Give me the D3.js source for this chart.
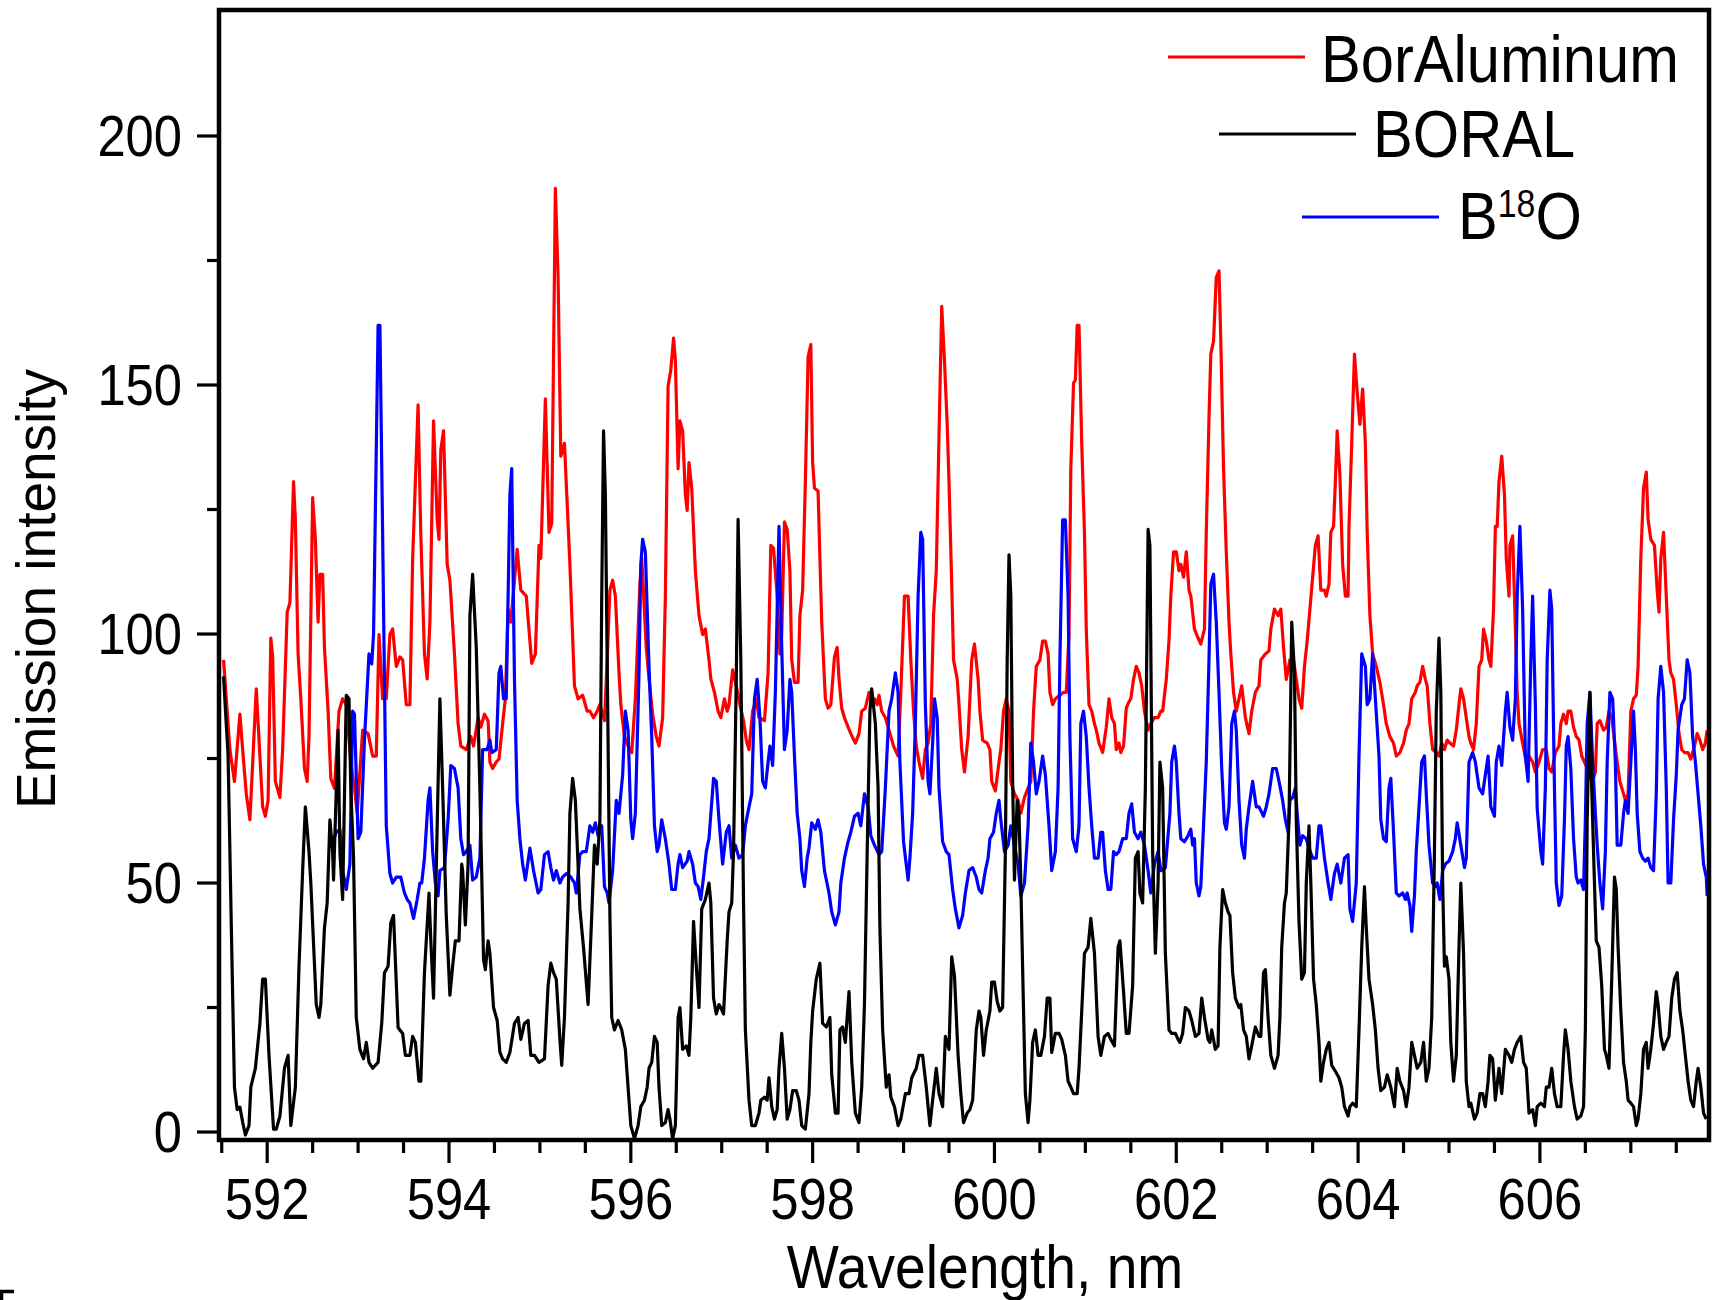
<!DOCTYPE html>
<html>
<head>
<meta charset="utf-8">
<script src="https://cdn.jsdelivr.net/npm/d3@7"></script>
<style>
body{margin:0;background:#fff}
svg{display:block}
text{font-family:"Liberation Sans",Arial,sans-serif;fill:#000}
</style>
</head>
<body>
<div id="chart"></div>
<script>
// spectra: [wavelength nm, intensity]
var borAluminum = [[591.52,94.8],[591.59,76.8],[591.64,70.4],[591.70,83.9],[591.73,76.8],[591.77,67.9],[591.81,62.7],[591.88,89],[591.95,65.3],[591.98,63.4],[592.01,66.6],[592.04,99.2],[592.06,95.4],[592.09,70.4],[592.14,67.2],[592.17,76.8],[592.22,104.4],[592.25,106.3],[592.29,130.6],[592.31,122.9],[592.34,96],[592.37,87],[592.41,73],[592.44,70.4],[592.46,79.4],[592.50,127.4],[592.53,119],[592.56,102.4],[592.58,112],[592.61,112],[592.63,97.3],[592.67,84.5],[592.70,71],[592.74,69],[592.79,84.5],[592.83,87],[592.87,85.8],[592.92,74.3],[592.96,69.1],[592.99,64],[593.05,80.7],[593.11,80],[593.16,75.5],[593.20,75.5],[593.23,99.9],[593.27,87],[593.31,87],[593.35,99.9],[593.38,101],[593.42,93.5],[593.46,95.4],
  [593.49,94.8],[593.53,85.8],[593.57,85.8],[593.60,115],[593.66,146],[593.69,120],[593.73,96],[593.76,91],[593.79,102.4],[593.83,142.8],[593.87,123],[593.89,119],[593.91,137],[593.94,140.8],[593.98,114],[594.01,110.8],[594.06,96],[594.10,82],[594.13,77.5],[594.19,76.8],[594.24,79.4],[594.27,77.5],[594.32,83.2],[594.35,81.3],[594.39,83.9],[594.43,82.6],[594.45,74.3],[594.48,73],[594.52,74.3],[594.55,74.9],[594.59,82],[594.62,87],[594.65,105],[594.68,102.4],[594.75,117],[594.79,108.8],[594.85,107.6],[594.91,94.1],[594.95,96],[594.99,117.8],[595.01,115.2],[595.06,147.2],[595.10,120.4],[595.13,122.3],[595.17,189.5],[595.20,171.6],[595.23,135.7],[595.27,138.3],[595.33,114],[595.38,89.6],[595.42,87],[595.47,87.7],[595.52,84.5],
  [595.55,84.5],[595.59,83.2],[595.63,84.5],[595.66,85.8],[595.71,82.6],[595.74,94.8],[595.77,108.8],[595.80,110.8],[595.83,107.6],[595.87,92.2],[595.89,85.8],[595.93,79.4],[595.97,77.5],[596.01,76.2],[596.05,87],[596.10,110],[596.12,115.2],[596.17,97.3],[596.20,91],[596.24,83.9],[596.28,79.4],[596.31,77.5],[596.35,83.2],[596.38,107.6],[596.41,149.8],[596.44,153],[596.47,159.4],[596.49,155],[596.52,133.2],[596.54,142.8],[596.57,140.8],[596.60,128],[596.62,124.8],[596.64,134.4],[596.67,129.3],[596.71,112.7],[596.75,103.7],[596.79,99.9],[596.82,101],[596.86,94.8],[596.88,91],[596.92,88.3],[596.96,84.5],[596.99,83.2],[597.03,87],[597.06,84.5],[597.08,85.8],[597.12,92.8],[597.16,89.6],[597.20,85.8],[597.24,82.6],[597.27,78.7],[597.30,76.8],[597.34,84.5],[597.38,87],[597.41,83.2],[597.47,82.6],[597.51,92.2],[597.54,117.8],[597.57,117.2],[597.61,107.6],
  [597.64,96],[597.66,100],[597.69,122.5],[597.72,121],[597.75,112.7],[597.77,94.8],[597.80,90.3],[597.84,90.3],[597.86,103.7],[597.89,108.8],[597.92,130.6],[597.95,155.6],[597.98,158.1],[598.00,134.4],[598.02,129.3],[598.06,128.7],[598.08,115.2],[598.10,102.4],[598.14,87],[598.17,85.1],[598.20,85.8],[598.24,95.4],[598.27,97.3],[598.29,91],[598.32,85.1],[598.35,83.2],[598.39,81.3],[598.42,80],[598.47,78.1],[598.51,80],[598.54,84.5],[598.58,85.1],[598.62,88.3],[598.64,87],[598.68,87],[598.71,85.8],[598.73,87.7],[598.76,84.5],[598.80,83.2],[598.84,80.7],[598.89,77.5],[598.94,75.5],[598.97,88.3],[599.01,107.6],[599.05,107.6],[599.08,94.8],[599.11,84.5],[599.14,77.5],[599.17,74.3],[599.21,71],[599.24,76.8],[599.27,78.1],[599.30,82],[599.33,103.7],[599.36,112.7],[599.39,139.6],[599.42,165.8],[599.45,155],[599.48,142.1],[599.50,130.6],[599.53,110],[599.55,94.8],[599.59,91],[599.61,85.8],[599.64,76.8],[599.67,72.3],[599.71,79.4],
  [599.75,94.8],[599.78,98],[599.82,91],[599.84,84.5],[599.87,78.7],[599.92,78.1],[599.95,76.8],[599.97,70.4],[600.01,68.5],[600.05,74.3],[600.07,76.8],[600.10,84.5],[600.13,87],[600.16,84.5],[600.18,70.4],[600.22,67.9],[600.26,66.6],[600.29,64],[600.33,67.2],[600.37,69.1],[600.40,70.4],[600.43,84.5],[600.46,93.5],[600.50,94.8],[600.53,98.6],[600.56,98.6],[600.59,96],[600.61,88.3],[600.64,85.8],[600.67,87],[600.72,87.7],[600.76,88.3],[600.79,88.3],[600.82,99.9],[600.84,133.2],[600.87,150.4],[600.89,151],[600.91,162],[600.93,162],[600.96,138.3],[600.99,120.4],[601.01,101],[601.04,85.8],[601.07,84.5],[601.10,82],[601.12,80.7],[601.15,78.1],[601.19,76.2],[601.23,81.3],[601.26,87],[601.29,83.2],[601.32,82],[601.34,76.8],[601.37,78.1],[601.39,76.2],[601.42,77.5],[601.45,85.1],[601.48,86.4],[601.50,87],[601.53,90.9],[601.56,93.5],[601.59,92.2],[601.62,89.6],[601.65,84.5],[601.69,80.7],[601.72,82],[601.76,83.2],[601.80,83.2],[601.83,84.5],
  [601.85,84.5],[601.89,90.9],[601.92,98.6],[601.94,107.6],[601.97,116.5],[602.00,116.5],[602.03,112.7],[602.05,114],[602.08,111.4],[602.11,116.5],[602.14,108.8],[602.16,107.6],[602.20,101],[602.24,99.2],[602.27,98],[602.31,101],[602.33,120.4],[602.36,143.4],[602.38,156.2],[602.41,158.8],[602.44,171.6],[602.47,172.9],[602.49,158.8],[602.52,133.2],[602.55,116.5],[602.58,102.4],[602.60,96],[602.63,88.3],[602.66,84.5],[602.69,87],[602.72,89.6],[602.76,83.2],[602.80,80],[602.83,84.5],[602.87,88.3],[602.91,89.6],[602.93,94.8],[602.98,96],[603.02,96.6],[603.04,101],[603.08,105],[603.12,103.7],[603.15,105],[603.18,97.3],[603.21,90.9],[603.25,94.8],[603.29,94.8],[603.32,90.9],[603.35,87],[603.38,85.1],[603.41,93.5],[603.44,98.6],[603.47,105],[603.50,111.4],[603.53,117.8],[603.56,119.7],[603.59,108.8],[603.63,108.8],[603.65,107.6],[603.68,110],[603.70,120.4],[603.73,121.6],[603.75,130.6],[603.77,140.8],[603.80,131.9],[603.83,114],[603.86,107.6],[603.89,107.6],[603.90,121.6],[603.93,138.3],[603.96,156.2],
  [603.99,148.5],[604.02,142.1],[604.05,149.2],[604.08,138.3],[604.10,120.4],[604.13,103.7],[604.16,96],[604.20,93.5],[604.24,90.3],[604.28,85.8],[604.31,82],[604.35,79.4],[604.39,78.1],[604.42,75.5],[604.46,76.2],[604.50,78.1],[604.53,80.7],[604.56,82],[604.59,87],[604.63,88.3],[604.65,89.6],[604.68,90.3],[604.71,93.5],[604.74,90.9],[604.76,89.6],[604.79,82],[604.82,76.8],[604.86,76.2],[604.89,75.5],[604.92,78.1],[604.95,76.8],[604.98,78.7],[605.01,78.1],[605.05,77.5],[605.08,80.7],[605.11,85.8],[605.13,89],[605.16,87],[605.19,83.2],[605.22,79.4],[605.24,78.1],[605.27,76.8],[605.30,82],[605.33,93.5],[605.36,94.8],[605.38,101],[605.41,98.6],[605.44,94.8],[605.46,93.5],[605.49,105],[605.51,121.6],[605.53,121.6],[605.55,130.6],[605.58,135.7],[605.61,128],[605.63,115.2],[605.66,107.6],[605.67,117.8],[605.70,119.7],[605.72,107.6],[605.75,88.3],[605.77,82],[605.81,78.1],[605.85,74.3],
  [605.88,75.5],[605.92,74.3],[605.95,72.3],[605.99,74.3],[606.03,76.8],[606.07,76.8],[606.10,73],[606.13,72.3],[606.17,76.2],[606.21,77.5],[606.23,82],[606.26,83.9],[606.29,82],[606.31,84.5],[606.34,84.5],[606.37,81.3],[606.40,79.4],[606.43,78.7],[606.46,75.5],[606.49,74.3],[606.52,73],[606.55,71],[606.58,70.4],[606.61,72.3],[606.63,82],[606.66,82.6],[606.70,80.7],[606.73,81.3],[606.76,84.5],[606.79,83.2],[606.82,78.7],[606.85,74.3],[606.88,70.4],[606.92,67.9],[606.94,66.6],[606.97,67.9],[607.00,84.5],[607.03,87],[607.06,87.7],[607.08,93.5],[607.11,115.2],[607.14,129.3],[607.17,132.5],[607.19,123],[607.22,119],[607.26,117.8],[607.29,108.8],[607.31,104.4],[607.33,115.2],[607.36,120.4],[607.39,107.6],[607.42,94.8],[607.44,92.2],[607.47,90.9],[607.50,85.8],[607.53,80],[607.56,76.8],[607.59,76.2],[607.63,76.2],[607.66,74.9],[607.70,77.5],[607.73,80],[607.76,78.7],[607.79,76.8],[607.82,78.1],[607.84,80.7]];

var boral = [[591.52,91.5],[591.57,75.5],[591.61,37],[591.64,9],[591.67,4.5],[591.70,5],[591.73,2],[591.76,-0.6],[591.80,1.3],[591.82,9],[591.87,12.8],[591.92,21.8],[591.95,30.7],[591.98,30.7],[592.02,15.4],[592.07,0.6],[592.10,0.6],[592.14,3.2],[592.19,12.8],[592.23,15.4],[592.26,1.3],[592.31,9],[592.35,33.3],[592.39,52.5],[592.42,65.3],[592.46,56.3],[592.48,50],[592.54,25.6],[592.57,23],[592.59,25.6],[592.63,41],[592.66,46],[592.69,62.7],[592.72,56.3],[592.73,50.6],[592.78,80.7],[592.80,56.3],[592.83,46.7],[592.87,87.7],[592.90,87],[592.92,69],[592.95,55],[592.98,23],[593.02,16.6],[593.06,14.7],[593.09,18],[593.12,14],[593.16,12.8],[593.22,14],[593.26,21.8],[593.29,32],[593.33,33.3],[593.36,42],[593.39,43.5],[593.44,21],
  [593.46,20.5],[593.49,19.8],[593.52,15.4],[593.57,15.4],[593.60,19.2],[593.63,18],[593.67,10.2],[593.69,10.2],[593.73,32],[593.78,48],[593.80,38.4],[593.83,26.9],[593.87,61.5],[593.90,87],[593.93,69],[593.97,43.5],[594.01,27.5],[594.04,33.3],[594.07,38.4],[594.11,38.4],[594.14,53.8],[594.15,52.5],[594.18,41.6],[594.21,53.8],[594.23,103.7],[594.26,112],[594.30,97.3],[594.34,69],[594.38,34.6],[594.40,32.6],[594.43,38.4],[594.45,35.9],[594.49,25],[594.53,22.4],[594.56,16],[594.59,14.7],[594.63,14],[594.67,16],[594.72,21.8],[594.76,23],[594.79,18.6],[594.83,21.8],[594.87,22.4],[594.90,15.4],[594.94,15.4],[594.99,14],[595.05,14.7],[595.09,29.4],[595.12,33.9],[595.15,32],[595.18,30.7],[595.22,18.6],[595.24,13.4],[595.27,23],[595.31,46],[595.33,64],[595.36,71],[595.39,66.6],[595.44,44.8],[595.48,37],[595.53,25.6],
  [595.57,43.5],[595.60,57.6],[595.63,53.8],[595.66,62.7],[595.68,107.6],[595.70,140.8],[595.72,128],[595.75,78.1],[595.77,43.5],[595.79,23],[595.82,20.5],[595.86,22.4],[595.90,20.5],[595.94,16.6],[595.98,6.4],[596.00,1.3],[596.04,-1.3],[596.08,1.3],[596.11,5.1],[596.15,6.4],[596.18,9],[596.20,12.8],[596.23,14],[596.26,19.2],[596.29,18],[596.31,9],[596.34,1.3],[596.38,1.9],[596.41,4.5],[596.43,2.6],[596.46,-1.3],[596.49,1.3],[596.52,23],[596.54,25],[596.57,16.6],[596.61,17.3],[596.64,15.4],[596.66,23],[596.69,42.3],[596.72,33.3],[596.75,25],[596.78,44.8],[596.82,46.7],[596.86,50],[596.88,46],[596.91,26.9],[596.94,23.7],[596.97,25.6],[596.99,25],[597.02,23.7],[597.06,38.4],[597.08,44.2],[597.11,46],[597.13,56.3],[597.16,90.9],[597.18,123],[597.21,94.8],[597.24,46],[597.26,20.5],[597.30,6.4],[597.33,1.3],[597.37,1.3],[597.41,3.8],[597.43,6.4],[597.47,7],[597.50,6.4],[597.52,10.9],[597.55,5.1],[597.58,2.6],[597.61,4.5],
  [597.63,12.8],[597.66,19.8],[597.69,12.8],[597.72,2.6],[597.75,4.5],[597.78,8.3],[597.82,8.3],[597.85,6.4],[597.88,1.3],[597.92,0.6],[597.96,7.7],[597.98,18],[598.00,24.3],[598.04,30.7],[598.08,33.9],[598.11,21.8],[598.15,21.1],[598.19,23],[598.21,11.5],[598.25,3.8],[598.28,3.8],[598.30,20.5],[598.33,21.1],[598.36,18],[598.40,28.2],[598.43,14],[598.47,3.8],[598.51,1.9],[598.54,9],[598.57,25.6],[598.60,56.3],[598.63,84.5],[598.65,89],[598.69,82],[598.72,69.1],[598.74,41],[598.77,20.5],[598.81,9],[598.84,11.5],[598.86,7],[598.90,5.1],[598.94,1.3],[598.97,2.6],[599.02,7.7],[599.06,7.7],[599.09,10.9],[599.14,12.8],[599.17,15.4],[599.21,15.4],[599.25,9],[599.29,1.3],[599.32,6.4],[599.36,12.8],[599.39,7.7],[599.43,5.1],[599.46,19.2],[599.50,16.6],[599.53,35.2],[599.56,31.4],[599.60,15.4],[599.63,7.7],[599.66,1.9],[599.70,3.8],[599.73,4.5],[599.76,6.4],[599.80,20.5],
  [599.83,24.3],[599.85,23],[599.88,15.4],[599.91,20.5],[599.95,24.3],[599.97,30.1],[600.00,30.1],[600.03,26.2],[600.06,24.3],[600.09,25],[600.12,56.3],[600.14,94.8],[600.16,115.9],[600.18,107.6],[600.20,70.4],[600.22,50.6],[600.25,66.6],[600.27,64],[600.29,50],[600.32,24.3],[600.34,7.7],[600.37,1.9],[600.39,6.4],[600.42,18],[600.45,20.5],[600.48,15.4],[600.51,15.4],[600.55,19.2],[600.58,26.9],[600.61,26.9],[600.63,16],[600.67,19.8],[600.71,19.8],[600.74,18.6],[600.78,15.4],[600.81,10.2],[600.84,9],[600.87,7.7],[600.91,7.7],[600.93,12.8],[600.96,24.3],[600.99,35.9],[601.03,37.1],[601.06,42.9],[601.10,35.9],[601.14,19.2],[601.17,15.4],[601.21,19.2],[601.25,19.8],[601.28,18.6],[601.32,17.3],[601.36,37.1],[601.38,38.4],[601.42,28.2],[601.45,19.8],[601.48,19.8],[601.52,29.4],[601.55,55],[601.58,56.3],[601.60,48],[601.63,46],[601.66,69.1],[601.69,121],[601.71,117.8],[601.74,56.3],[601.77,35.9],[601.80,50],[601.82,74.3],[601.85,69.1],[601.88,35.9],
  [601.92,20.5],[601.95,19.8],[601.99,19.8],[602.02,18.6],[602.04,18],[602.07,19.8],[602.10,25],[602.14,24.3],[602.17,22.4],[602.21,19.2],[602.25,19.8],[602.28,26.9],[602.31,23],[602.35,18.6],[602.37,18],[602.39,20.5],[602.43,16.6],[602.46,17.3],[602.48,37.1],[602.51,48.7],[602.54,46],[602.57,44.2],[602.59,43.5],[602.62,32],[602.65,26.9],[602.69,25],[602.71,25.6],[602.74,20.5],[602.77,19.2],[602.80,14.7],[602.83,17.3],[602.87,21.1],[602.91,19.2],[602.93,19.2],[602.96,32],[602.98,32.6],[603.01,23],[603.04,15.4],[603.08,12.8],[603.12,15.4],[603.14,23],[603.16,37.1],[603.19,46],[603.21,48],[603.24,62.7],[603.26,88.3],[603.27,102.4],[603.30,92.2],[603.32,62.7],[603.35,42.3],[603.38,30.7],[603.41,32],[603.43,50],[603.46,61.5],[603.48,50],[603.51,30.7],[603.54,25.6],[603.57,18],[603.59,10.2],[603.62,14],[603.65,16.6],[603.68,18],[603.71,13.4],[603.75,12.2],[603.79,10.9],[603.82,9],[603.85,5.1],[603.89,3.2],[603.91,5.1],[603.94,5.8],[603.98,5.1],
  [604.01,20.5],[604.04,37.1],[604.07,49.3],[604.09,41],[604.12,30.7],[604.16,25.6],[604.19,20.5],[604.22,12.8],[604.25,8.3],[604.29,9],[604.32,11.5],[604.36,9],[604.40,5.1],[604.43,12.8],[604.46,10.2],[604.50,8.3],[604.53,5.1],[604.56,9],[604.59,18],[604.62,15.4],[604.65,12.8],[604.69,14],[604.72,18],[604.75,10.2],[604.78,12.8],[604.81,23],[604.84,56.3],[604.86,84.5],[604.89,99.2],[604.91,88.3],[604.93,50],[604.95,33.3],[604.97,35.2],[605.00,30.7],[605.02,18],[605.05,10.2],[605.08,15.4],[605.11,37.1],[605.13,50],[605.16,35.9],[605.19,10.2],[605.22,5.1],[605.24,5.8],[605.28,2.6],[605.31,3.8],[605.34,7.7],[605.37,7.7],[605.40,5.1],[605.43,10.2],[605.45,15.4],[605.48,14.7],[605.51,6.4],[605.55,12.8],[605.58,7.7],[605.62,16.6],[605.66,15.4],[605.69,14],[605.72,16.6],[605.75,18],[605.79,19.2],[605.82,14],[605.85,12.8],
  [605.88,3.8],[605.92,4.5],[605.95,1.3],[605.97,5.1],[606.01,5.8],[606.05,5.1],[606.07,9],[606.10,9],[606.13,12.8],[606.16,7.7],[606.19,5.1],[606.23,5.1],[606.26,15.4],[606.28,20.5],[606.31,16.6],[606.34,10.2],[606.38,5.1],[606.41,2.6],[606.45,3.2],[606.48,5.1],[606.50,20.5],[606.52,62.7],[606.55,88.3],[606.57,69.1],[606.60,50],[606.62,38.4],[606.65,37.1],[606.68,29.4],[606.71,16.6],[606.73,15.4],[606.76,12.8],[606.79,30.7],[606.82,51.2],[606.84,48.7],[606.86,37.1],[606.89,24.3],[606.92,14],[606.95,10.2],[606.97,6.4],[607.00,5.8],[607.03,5.1],[607.06,1.3],[607.08,2.6],[607.11,7.7],[607.14,16.6],[607.17,18],[607.19,12.8],[607.22,16.6],[607.25,21.8],[607.28,28.2],[607.30,25.6],[607.33,19.2],[607.36,16.6],[607.39,18],[607.42,19.2],[607.45,26.9],[607.48,30.7],[607.51,32],[607.54,24.3],[607.57,20.5],[607.60,15.4],[607.63,10.2],[607.66,6.4],[607.69,5.1],[607.72,10.2],[607.74,12.8],[607.77,9],[607.80,3.8],[607.83,2.6]];

var b18o = [[592.72,58.3],[592.76,60.2],[592.80,60.8],[592.83,52.5],[592.87,48.7],[592.91,53.8],[592.94,84.5],[592.96,83.9],[593.00,58.9],[593.03,60.2],[593.07,78.7],[593.12,96],[593.15,94],[593.17,99.9],[593.22,162],[593.24,162],[593.27,120],[593.31,61.5],[593.35,51.9],[593.38,50],[593.42,51.2],[593.47,51.2],[593.51,48],
  [593.54,46.7],[593.57,46],[593.61,42.9],[593.65,46.7],[593.68,50],[593.70,50],[593.73,55],[593.77,66.6],[593.79,69.1],[593.82,56.3],[593.85,50],[593.88,47.4],[593.90,52.5],[593.95,53.1],[593.99,62.7],[594.02,73.6],[594.06,73],[594.10,69.1],[594.13,58.9],[594.16,55.7],[594.19,56.3],[594.23,57.6],[594.26,50.6],[594.30,51.2],[594.34,55],[594.37,76.8],[594.42,76.8],[594.45,78.7],[594.47,76.2],[594.52,76.8],[594.55,92.2],[594.57,93.5],[594.60,87],[594.63,87],[594.67,128],[594.69,133.2],[594.72,90.9],[594.75,66.6],[594.78,58.9],[594.81,53.8],[594.84,50.6],[594.89,57],[594.93,52.5],[594.98,48],[595.01,48.7],[595.05,55.7],[595.09,56.3],[595.12,53.1],[595.15,50.6],[595.18,52.5],[595.22,50],[595.25,51.2],[595.29,51.9],[595.34,51.2],[595.38,50],[595.40,48],[595.44,55.7],[595.47,56.3],[595.51,56.3],
  [595.55,61.5],[595.58,60.2],[595.61,62.1],[595.64,59.5],[595.68,61.5],[595.71,49.3],[595.74,48],[595.76,46],[595.80,52.5],[595.84,66.6],[595.87,64],[595.91,71.7],[595.94,84.5],[595.97,80.7],[596.00,62.7],[596.02,58.9],[596.05,64],[596.09,92.2],[596.11,114],[596.13,119],[596.16,116.5],[596.20,93.5],[596.23,79.4],[596.26,61.5],[596.29,56.3],[596.31,57.6],[596.34,62.7],[596.38,58.9],[596.42,53.8],[596.45,48.7],[596.49,48.7],[596.52,53.8],[596.54,55.7],[596.57,53.1],[596.62,54.4],[596.64,56.3],[596.68,53.8],[596.71,50],[596.74,49.3],[596.77,46.7],[596.80,51.2],[596.83,56.3],[596.86,58.9],[596.91,71],[596.94,70.4],[596.97,62.7],[597.01,53.8],[597.05,60.2],[597.08,61.5],[597.11,55],[597.15,57.6],[597.19,55],[597.23,55.7],[597.26,61.5],[597.30,65.3],[597.33,67.9],[597.36,87],[597.39,90.9],[597.42,83.2],[597.45,70.4],[597.48,69.1],[597.51,74.3],[597.53,77.5],[597.56,73.6],[597.59,88.3],[597.63,121.6],
  [597.66,97.3],[597.69,76.8],[597.72,80.7],[597.75,90.9],[597.77,88.3],[597.80,75.5],[597.83,64],[597.86,58.9],[597.88,52.5],[597.91,49.3],[597.94,55],[597.96,57],[597.99,62.1],[598.03,60.8],[598.06,62.7],[598.09,60.2],[598.13,52.5],[598.18,48],[598.21,44.2],[598.25,41.6],[598.29,44.2],[598.31,50],[598.35,55],[598.39,58.3],[598.42,60.2],[598.46,63.4],[598.50,64],[598.53,61.5],[598.57,67.9],[598.61,65.3],[598.64,59.5],[598.68,57.6],[598.73,55.7],[598.76,56.3],[598.80,69.1],[598.84,84.5],[598.87,87],[598.91,92.2],[598.94,88.3],[598.96,74.3],[599.00,58.3],[599.05,50.6],[599.07,55],[599.10,64],[599.13,82],[599.16,107.6],[599.19,120.4],[599.21,119],[599.24,85.8],[599.27,70.4],[599.29,67.9],[599.32,78.1],[599.34,87],[599.37,83.2],[599.39,69.1],[599.43,58.3],[599.47,56.3],[599.50,55.7],[599.54,48.7],[599.57,44.8],[599.61,41],[599.65,43.5],[599.68,48],[599.72,52.5],[599.76,53.1],[599.80,51.2],
  [599.83,48.7],[599.86,48],[599.90,52.5],[599.93,55],[599.95,58.9],[599.99,60.2],[600.02,64],[600.05,66.6],[600.07,62.7],[600.11,56.3],[600.15,57.6],[600.18,61.5],[600.22,57.6],[600.26,53.8],[600.29,47.4],[600.33,50],[600.37,61.5],[600.40,78.1],[600.43,74.3],[600.46,67.9],[600.49,70.4],[600.53,75.5],[600.56,71.7],[600.60,61.5],[600.63,52.5],[600.67,56.3],[600.70,69.1],[600.72,94.8],[600.75,122.9],[600.78,122.9],[600.81,107.6],[600.83,79.4],[600.86,58.9],[600.90,56.3],[600.93,61.5],[600.95,82],[600.98,84.5],[601.01,79.4],[601.04,69.1],[601.07,61.5],[601.10,55],[601.14,55],[601.17,60.2],[601.19,60.2],[601.22,52.5],[601.25,48.7],[601.28,48.7],[601.31,56.3],[601.34,55.7],[601.37,56.3],[601.41,58.9],[601.45,58.9],[601.48,64],[601.51,65.9],[601.54,60.2],[601.58,58.9],[601.61,60.2],[601.65,57.6],[601.69,52.5],[601.72,48],[601.76,53.8],[601.80,56.3],[601.83,52.5],[601.88,53.1],
  [601.93,64],[601.95,74.3],[601.98,77.5],[602.00,74.3],[602.03,64],[602.05,58.9],[602.09,58.3],[602.13,59.5],[602.16,60.8],[602.18,57.6],[602.20,58.9],[602.22,50],[602.25,47.4],[602.27,49.3],[602.30,61.5],[602.33,74.3],[602.36,94.8],[602.38,110],[602.41,112],[602.44,102.4],[602.47,88.3],[602.50,73],[602.53,62.1],[602.55,60.8],[602.58,65.3],[602.61,82],[602.64,84.5],[602.66,80.7],[602.69,66.6],[602.72,57.6],[602.75,55],[602.77,60.8],[602.80,65.3],[602.84,70.4],[602.88,65.3],[602.91,65.3],[602.96,63.4],[602.99,65.3],[603.02,67.9],[603.06,73],[603.10,73],[603.13,70.4],[603.17,66.6],[603.20,62.7],[603.23,60.2],[603.25,66.6],[603.28,67.2],[603.31,69.1],[603.33,64],[603.36,57.6],[603.39,59.5],[603.43,58.9],[603.46,57],[603.50,55],[603.54,55],[603.57,61.5],[603.59,61.5],[603.63,55],[603.67,50],[603.70,46.7],[603.74,51.9],[603.77,53.8],[603.81,50],[603.85,55],[603.89,55.7],[603.91,44.8],[603.94,42.3],[603.98,50],
  [604.01,75.5],[604.04,96],[604.08,93.5],[604.10,85.8],[604.13,87],[604.16,96],[604.19,87],[604.23,75.5],[604.25,62.7],[604.28,58.9],[604.31,58.3],[604.34,69.1],[604.36,71],[604.39,60.2],[604.42,48],[604.45,47.4],[604.49,48],[604.52,46.7],[604.54,48],[604.57,45.5],[604.59,40.3],[604.62,47.4],[604.64,56.3],[604.67,65.3],[604.70,74.3],[604.73,75.5],[604.75,67.9],[604.78,57.6],[604.82,50],[604.85,49.3],[604.87,50],[604.90,46.7],[604.93,52.5],[604.96,53.8],[605.00,54.4],[605.04,56.3],[605.07,58.9],[605.09,62.1],[605.13,57.6],[605.17,53.1],[605.19,55],[605.22,74.3],[605.26,76.2],[605.29,74.3],[605.33,69.1],[605.37,67.9],[605.41,73],[605.43,75.5],[605.46,65.3],[605.50,63.4],[605.52,74.3],[605.55,77.5],[605.58,73.6],[605.62,84.5],[605.64,88.3],[605.67,81.3],[605.70,78.7],[605.73,87],[605.75,107.6],[605.78,121.6],[605.81,105],[605.84,75.5],[605.87,70.4],[605.90,94.8],[605.92,107.6],[605.95,85.8],
  [605.97,65],[606.01,56.3],[606.03,53.8],[606.06,69.1],[606.08,94.8],[606.11,108.8],[606.13,105],[606.16,69.1],[606.18,50],[606.21,45.5],[606.24,47.4],[606.27,62.7],[606.29,77.5],[606.31,79.4],[606.34,73],[606.37,58.9],[606.40,51.2],[606.42,50],[606.45,50.6],[606.48,48.7],[606.50,62.7],[606.52,82],[606.55,88.3],[606.58,74.3],[606.61,64],[606.63,57.6],[606.66,50],[606.69,44.8],[606.72,56.3],[606.74,74.3],[606.77,88.3],[606.80,87],[606.83,74.3],[606.85,57.6],[606.89,57.6],[606.92,64],[606.94,66.6],[606.97,64],[607.00,74.3],[607.03,84.5],[607.05,76.8],[607.07,64],[607.10,56.3],[607.13,55],[607.16,54.4],[607.19,55],[607.22,53.1],[607.25,52.5],[607.28,67.9],[607.30,87],[607.33,93.5],[607.36,88.3],[607.39,69.1],[607.41,50],[607.44,50],[607.47,62.7],[607.50,71.7],[607.52,80.7],[607.56,85.8],[607.59,87],[607.62,94.8],[607.65,92.2],[607.68,79.4],[607.71,74.3],[607.74,67.9],[607.77,61.5],[607.80,53.8],[607.83,51.2],[607.84,47.4]];

var xMajor = [592, 594, 596, 598, 600, 602, 604, 606];
var xMinor = [591.5, 592.5, 593, 593.5, 594.5, 595, 595.5, 596.5, 597, 597.5, 598.5, 599, 599.5, 600.5, 601, 601.5, 602.5, 603, 603.5, 604.5, 605, 605.5, 606.5, 607, 607.5];
var yMajor = [0, 50, 100, 150, 200];
var yMinor = [25, 75, 125, 175];

var seriesNames = ["BorAluminum", "BORAL", "B18O"];
var seriesColors = ["#ff0000", "#000000", "#0000ff"];

var W = 1719, H = 1300;
var plotL = 219, plotR = 1709, plotT = 10, plotB = 1140;
var squeeze = 0.89;   // the lettering is a little narrow

var svg = d3.select("#chart").append("svg")
	.attr("width", W)
	.attr("height", H);

var x = d3.scaleLinear().domain([591.47, 607.86]).range([plotL, plotR]);
var y = d3.scaleLinear().domain([-1.6, 225.3]).range([plotB, plotT]);

svg.append("clipPath").attr("id", "plotclip")
	.append("rect")
	.attr("x", plotL).attr("y", plotT)
	.attr("width", plotR - plotL).attr("height", plotB - plotT);

var line = d3.line()
	.x(function(d){ return x(d[0]); })
	.y(function(d){ return y(d[1]); });

// red first, blue, then black on top
var drawOrder = [[borAluminum, 0], [b18o, 2], [boral, 1]];
var plot = svg.append("g").attr("clip-path", "url(#plotclip)");
drawOrder.forEach(function(s){
	plot.append("path")
		.datum(s[0])
		.attr("d", line)
		.attr("fill", "none")
		.attr("stroke", seriesColors[s[1]])
		.attr("stroke-width", 3.2)
		.attr("stroke-linejoin", "round");
});

// frame
svg.append("rect")
	.attr("x", plotL).attr("y", plotT)
	.attr("width", plotR - plotL).attr("height", plotB - plotT)
	.attr("fill", "none")
	.attr("stroke", "#000")
	.attr("stroke-width", 4.5);

// ticks
var ticks = svg.append("g").attr("stroke", "#000").attr("stroke-width", 3.2);
xMajor.forEach(function(v){
	ticks.append("line").attr("x1", x(v)).attr("x2", x(v)).attr("y1", plotB).attr("y2", plotB + 23);
});
xMinor.forEach(function(v){
	ticks.append("line").attr("x1", x(v)).attr("x2", x(v)).attr("y1", plotB).attr("y2", plotB + 13);
});
yMajor.forEach(function(v){
	ticks.append("line").attr("x1", plotL - 22).attr("x2", plotL).attr("y1", y(v)).attr("y2", y(v));
});
yMinor.forEach(function(v){
	ticks.append("line").attr("x1", plotL - 12).attr("x2", plotL).attr("y1", y(v)).attr("y2", y(v));
});

function label(tx, ty, str, size, anchor){
	return svg.append("text")
		.attr("transform", "translate(" + tx + "," + ty + ") scale(" + squeeze + ",1)")
		.attr("text-anchor", anchor)
		.style("font-size", size + "px")
		.text(str);
}

xMajor.forEach(function(v){ label(x(v), 1219, v, 57, "middle"); });
yMajor.forEach(function(v){ label(182, y(v) + 20, v, 57, "end"); });

label(985, 1288, "Wavelength, nm", 62, "middle");

svg.append("text")
	.attr("transform", "translate(55,589) rotate(-90)")
	.attr("text-anchor", "middle")
	.style("font-size", "55px")
	.text("Emission intensity");

// legend
var legendRows = [
	{line: [1168, 1305], ly: 57, tx: 1321, ty: 82},
	{line: [1219, 1356], ly: 134, tx: 1373, ty: 157},
	{line: [1302, 1439], ly: 217, tx: 1458, ty: 239}
];
legendRows.forEach(function(r, i){
	svg.append("line")
		.attr("x1", r.line[0]).attr("x2", r.line[1])
		.attr("y1", r.ly).attr("y2", r.ly)
		.attr("stroke", seriesColors[i])
		.attr("stroke-width", 3);
	var t = label(r.tx, r.ty, "", 67, "start");
	if(seriesNames[i] == "B18O"){
		t.append("tspan").text("B");
		t.append("tspan").attr("dy", -22).style("font-size", "38px").text("18");
		t.append("tspan").attr("dy", 22).text("O");
	} else {
		t.text(seriesNames[i]);
	}
});

// clipped glyph in the bottom left corner of the source image
svg.append("path")
	.attr("d", "M0,1291.5 H14 M1.5,1290 V1300")
	.attr("stroke", "#000")
	.attr("stroke-width", 3.5)
	.attr("fill", "none");
</script>
</body>
</html>
